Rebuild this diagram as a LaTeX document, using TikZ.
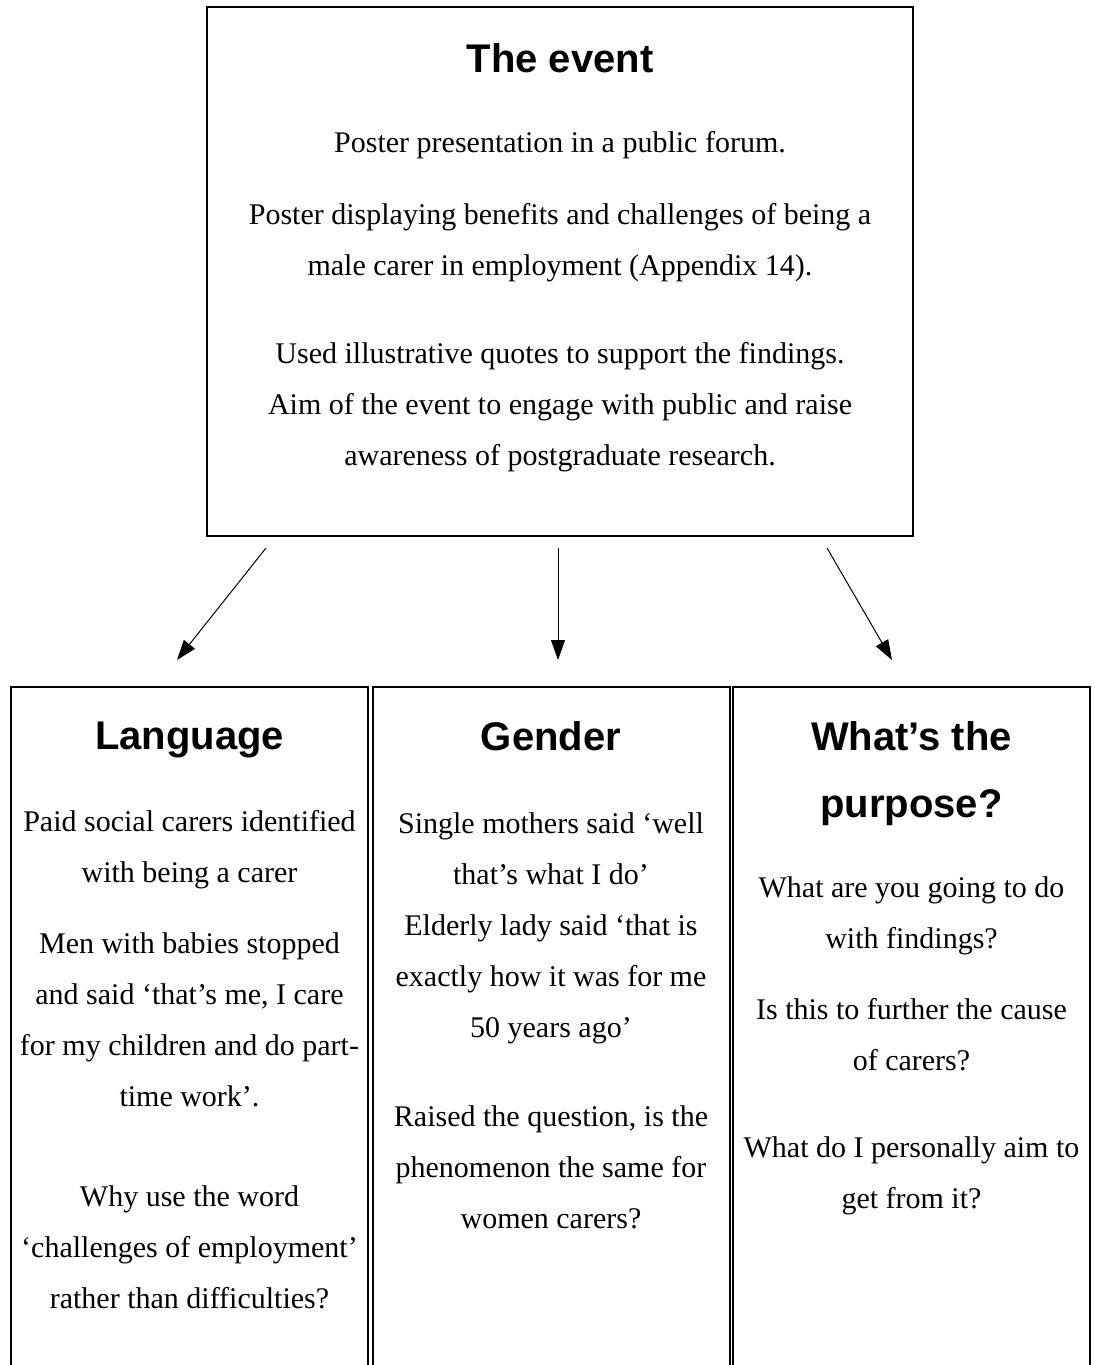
\documentclass[tikz,border=0pt]{standalone}
\usepackage{fontspec}
\setmainfont{Liberation Serif}
\newfontfamily\headfont[Ligatures=TeX]{Liberation Sans}
\usetikzlibrary{arrows.meta,calc}

\begin{document}
\begin{tikzpicture}[x=0.5pt,y=-0.5pt,
  evbox/.style={draw,line width=1pt,minimum width=353pt,minimum height=264.5pt,inner sep=0pt},
  colbox/.style={draw,line width=1pt,anchor=north,minimum width=178.5pt,minimum height=400pt,inner sep=0pt},
  htext/.style={anchor=base,inner sep=0pt,align=center,font=\headfont\bfseries\fontsize{20}{33.5}\selectfont},
  btext/.style={anchor=base,inner sep=0pt,align=center,font=\fontsize{15}{25.5}\selectfont},
  arr/.style={-{Triangle[length=10pt,width=7pt]},line width=0.5pt}]
\clip (0,0) rectangle (1094,1365);
% top box (base = last line)
\node[evbox] (event) at (560,271.5) {};
\node[htext] (evhead) at (560,72) {The event};
\node[btext] (ev1) at (560,152) {Poster presentation in a public forum.};
\node[btext] (ev2) at (560,275) {Poster displaying benefits and challenges of being a\\male carer in employment (Appendix 14).};
\node[btext] (ev3) at (560,465) {Used illustrative quotes to support the findings.\\Aim of the event to engage with public and raise\\awareness of postgraduate research.};
% three columns, open at the bottom
\node[colbox] (lang) at (189.5,686) {};
\node[colbox] (gender) at (551,686) {};
\node[colbox] (purpose) at (911.5,686) {};
\node[htext] (langhead) at (189.5,749) {Language};
\node[btext] (lang1) at (189.5,882) {Paid social carers identified\\with being a carer};
\node[btext] (lang2) at (189.5,1106) {Men with babies stopped\\and said `that's me, I care\\for my children and do part-\\time work'.};
\node[btext] (lang3) at (189.5,1308) {Why use the word\\`challenges of employment'\\rather than difficulties?};
\node[htext] (genhead) at (551,750) {Gender};
\node[btext] (gen1) at (551,1037) {Single mothers said `well\\that's what I do'\\Elderly lady said `that is\\exactly how it was for me\\50 years ago'};
\node[btext] (gen2) at (551,1228) {Raised the question, is the\\phenomenon the same for\\women carers?};
\node[htext] (purhead) at (911.5,817) {What’s the\\purpose?};
\node[btext] (pur1) at (911.5,948) {What are you going to do\\with findings?};
\node[btext] (pur2) at (911.5,1070) {Is this to further the cause\\of carers?};
\node[btext] (pur3) at (911.5,1208) {What do I personally aim to\\get from it?};
% arrows
\draw[arr] ($(event.south west)+(60,11)$) -- ($(lang.north)+(-12.5,-26)$);
\draw[arr] ($(event.south)+(-2,11)$) -- ($(gender.north)+(7,-26)$);
\draw[arr] ($(event.south east)+(-87,11)$) -- ($(purpose.north)+(-19.5,-26)$);
\end{tikzpicture}
\end{document}
